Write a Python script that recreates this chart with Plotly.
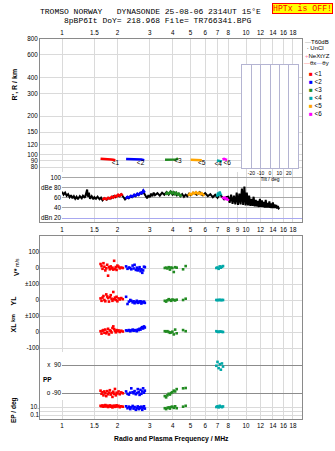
import plotly.graph_objects as go

W, H = 335, 451

# ---------------- data ----------------
FREQ_TICKS = [1, 1.5, 2, 3, 4, 5, 6, 7, 8, 10, 12, 14, 16, 18]
FREQ_TICKS_MID = [1, 1.5, 2, 3, 4, 5, 6, 7, 8, 9, 10, 12, 14, 16, 18]
RANGE_TICKS = [80, 90, 100, 120, 150, 200, 300, 400, 600, 800]
DBE_TICKS = [100, 80, 60, 40]
DBE_TEXT = ["100", "dBe 80", "60", "40"]
DBN_TICKS = [20]
DBN_TEXT = ["dBn 20"]
TILT_TICKS = [-20, -10, 0, 10, 20]
V_TICKS, V_TEXT = [100, 0, -100], ["100", "0", "±100"]
YL_TICKS, YL_TEXT = [0, -100], ["0", "±100"]
XL_TICKS, XL_TEXT = [0, -100], ["0", "-100"]
PP_TICKS, PP_TEXT = [90, -90], ["x\u00a0\u00a090", "o -90"]
EP_TICKS, EP_TEXT = [10, 1, 0.1], ["10.", "", "0.1"]

LABELS = ["<1", "<2", "<3", "<4", "<5", "<6"]
LABEL_POS = ["bottom center", "bottom left", "bottom center", "bottom left", "bottom center", "bottom center"]
COLORS = ["#ff0000", "#0000ff", "#228b22", "#00a8a8", "#ffa500", "#ff00ff"]

# virtual height traces (MHz, km)
t1_f = [1.62, 1.66, 1.70, 1.75, 1.80, 1.85, 1.90, 1.95]
t1_h = [93, 92.5, 92, 91.5, 92, 91.5, 91, 90.5]
t2_f = [2.23, 2.30, 2.40, 2.50, 2.60, 2.70, 2.80]
t2_h = [92.5, 92.5, 92, 92, 91.5, 91.5, 90.5]
t3_f = [3.63, 3.75, 3.90, 4.05, 4.15, 4.22, 4.27]
t3_h = [91, 91, 91, 91, 91.5, 92.5, 94]
t4_f = [6.95, 7.10, 7.25, 7.40]
t4_h = [90, 89.5, 88.5, 88.5]
t5_f = [5.00, 5.15, 5.30, 5.45, 5.60, 5.75]
t5_h = [91, 91, 91, 91, 91, 90.5]
t6_f = [7.45, 7.60, 7.75, 7.90]
t6_h = [91.5, 92.5, 91.5, 91]

# echo amplitude (dBe)
amp_f = [1.00, 1.02, 1.04, 1.06, 1.08, 1.10, 1.12, 1.14, 1.16, 1.18, 1.20, 1.22, 1.25, 1.28, 1.30,
         1.33, 1.35, 1.37, 1.38, 1.40, 1.42, 1.45, 1.48, 1.50, 1.53, 1.56, 1.60, 1.63, 1.66, 1.70,
         1.75, 1.80, 1.85, 1.90, 1.95, 2.00, 2.05, 2.10, 2.15, 2.20, 2.25, 2.30, 2.35, 2.40, 2.45,
         2.50, 2.55, 2.60, 2.65, 2.70, 2.75, 2.80, 2.85, 2.90, 2.95, 3.00, 3.05, 3.10, 3.15, 3.20,
         3.30, 3.40, 3.50, 3.60, 3.70, 3.80, 3.90, 4.00, 4.10, 4.20, 4.30, 4.40, 4.50, 4.60, 4.70,
         4.80, 4.90, 5.00, 5.20, 5.40, 5.60, 5.80, 6.00, 6.20, 6.40, 6.60, 6.80, 7.00, 7.20, 7.40,
         7.60, 7.80, 8.00, 8.15, 8.30, 8.45, 8.60, 8.75, 8.90, 9.05, 9.20, 9.35, 9.50, 9.65, 9.80,
         9.95, 10.10, 10.25, 10.40, 10.55, 10.70, 10.85, 11.00, 11.15, 11.30, 11.45, 11.60, 11.75,
         11.90, 12.05, 12.20, 12.35, 12.50, 12.65, 12.80, 12.95, 13.10, 13.25, 13.40, 13.55, 13.70,
         13.85, 14.00, 14.15, 14.30, 14.45, 14.60, 14.75, 14.90, 15.05, 15.20]
amp_db = [72, 66, 70, 64, 67, 61, 65, 59, 63, 58, 62, 57, 63, 59, 64,
          60, 68, 76, 62, 70, 58, 63, 57, 61, 58, 62, 57, 60, 55, 59,
          56, 60, 59, 63, 61, 65, 63, 67, 62, 57, 61, 59, 63, 61, 65,
          63, 67, 65, 69, 68, 73, 68, 63, 59, 65, 61, 68, 63, 70, 65,
          69, 64, 70, 66, 71, 66, 72, 66, 70, 65, 68, 63, 67, 62, 66,
          63, 68, 65, 70, 66, 71, 65, 69, 63, 67, 61, 66, 60, 67, 61,
          57, 61, 62, 50, 66, 48, 64, 47, 70, 46, 68, 47, 78, 46, 82,
          45, 70, 45, 64, 44, 58, 44, 62, 43, 56, 43, 54, 42,
          58, 42, 55, 42, 52, 41, 56, 41, 50, 41, 53, 40, 49,
          40, 51, 40, 47, 40, 46, 39, 44, 39, 40]
a1_f = [1.66, 1.70, 1.74, 1.78, 1.82, 1.86, 1.90, 1.94, 1.98, 2.02, 2.06, 2.10, 2.14]
a1_db = [56, 59, 57, 60, 58, 62, 60, 64, 62, 66, 64, 67, 65]
a2_f = [2.22, 2.27, 2.32, 2.37, 2.42, 2.47, 2.52, 2.57, 2.62, 2.67, 2.72, 2.77, 2.82]
a2_db = [58, 62, 60, 64, 62, 66, 64, 68, 66, 70, 69, 74, 70]
a3_f = [3.65, 3.72, 3.80, 3.88, 3.95, 4.02, 4.10, 4.18, 4.25, 4.32, 4.40, 4.48]
a3_db = [66, 70, 68, 72, 68, 71, 67, 70, 66, 68, 64, 66]
a4_f = [6.95, 7.05, 7.12, 7.20, 7.28, 7.36]
a4_db = [62, 70, 64, 72, 66, 68]
a5_f = [4.85, 4.95, 5.05, 5.15, 5.25, 5.35, 5.45, 5.55, 5.65, 5.75, 5.85, 5.95]
a5_db = [64, 68, 66, 70, 68, 71, 68, 70, 67, 69, 66, 64]
a6_f = [7.45, 7.55, 7.65, 7.75, 7.85, 7.95, 8.05]
a6_db = [62, 58, 62, 56, 60, 55, 58]

# echo parameters: V* (m/s), YL, XL (km), PP (deg), EP (deg)
e1_f = [1.62, 1.64, 1.66, 1.68, 1.70, 1.72, 1.74, 1.76, 1.78, 1.80, 1.82, 1.84,
        1.86, 1.88, 1.90, 1.92, 1.94, 1.96, 1.98, 2.00, 2.03, 2.06, 2.10, 2.14]
e1_v = [25, 12, -5, 30, 8, -15, -2, 20, -48, 5, -8, 10, -3, 2, -10, 45, -5, 6, -12, 15, 8, -2, 3, 0]
e1_yl = [10, -5, 15, 25, 0, -8, 35, 22, 12, -10, 18, 30, 8, -5, 50, 5, 15, 0, 20, -8, 10, 3, 12, 5]
e1_xl = [5, -10, 8, 12, -5, 15, -8, 0, 20, -15, 10, 5, -3, 25, 35, 18, 8, -2, 12, 5, 10, 0, 8, 3]
e1_pp = [-75, -95, -85, -105, -80, -92, -110, -78, -98, -88, -72, -100,
         -90, -115, -82, -95, -64, -105, -88, -93, -80, -98, -86, -92]
e1_ep = [20, 15, 25, 12, 18, 30, 14, 22, 10, 16, 25, 12, 19, 8, 15, 22, 11, 17, 26, 13, 20, 9, 15, 12]

e2_f = [2.23, 2.27, 2.31, 2.35, 2.38, 2.42, 2.45, 2.48, 2.52, 2.55,
        2.58, 2.61, 2.64, 2.67, 2.70, 2.73, 2.76, 2.79, 2.82]
e2_v = [10, -5, 3, 0, -8, 15, -3, 20, -12, 2, -15, -5, 5, -20, -8, -30, -15, 8, 5]
e2_yl = [20, -25, -10, 0, -5, -15, -8, -20, -12, -5, -18, -10, -15, -8, -22, -12, -15, -10, -18]
e2_xl = [10, 8, 12, 5, 10, 15, 8, 12, 10, 5, 15, 12, 20, 15, 25, 30, 22, 35, 28]
e2_pp = [-80, -95, -100, -88, -60, -85, -92, -78, -98, -90, -65, -85, -102, -70, -95, -80, -60, -88, -75]
e2_ep = [15, 5, 12, 3, 8, 18, 4, 10, 2, 6, 14, 3, 9, 5, 12, 2, 7, 15, 4]

e3_f = [3.62, 3.68, 3.74, 3.80, 3.86, 3.92, 3.98, 4.05, 4.12, 4.20, 4.55, 4.70]
e3_v = [0, 2, -3, 5, -10, 3, 0, -25, 5, 2, -8, 12]
e3_yl = [-5, -10, -2, 5, 0, -5, 3, 0, -3, 2, 0, 8]
e3_xl = [5, 3, 5, 0, -5, -3, 2, -15, 15, -8, 12, 5]
e3_pp = [-110, -118, -105, -95, -100, -90, -85, -75, -80, -65, -60, -58]
e3_ep = [5, 3, 6, 8, 4, 10, 12, 6, 15, 5, 12, 20]

e4_f = [6.90, 7.00, 7.10, 7.20, 7.30, 7.40, 7.50]
e4_v = [0, 3, -5, 10, 2, 8, 12]
e4_yl = [0, -1, 0, 1, -1, 0, 0]
e4_xl = [5, 2, 0, 3, 2, 1, 0]
e4_pp = [85, 110, 70, 95, 60, 100, 80]
e4_ep = [10, 15, 8, 20, 12, 9, 14]

# ---------------- layout helpers ----------------
def xd(a, b):
    return [a / W, b / W]


def yd(top, bottom):
    return [1 - bottom / H, 1 - top / H]


LOGL, LOGR = -0.1196, 1.3043
FRAME = "#8a8a8a"
GRID = "#dadada"
DGRID = "#a8a8a8"
PGRID = "#8c8c8c"
LAV = "#a8a8f0"
TILT = "#b4b4d2"
SANS = "Liberation Sans"
MONO = "Liberation Mono"
TF = dict(family=SANS, size=6.3, color="black")

fig = go.Figure()

# R' panel
vh = [(t1_f, t1_h), (t2_f, t2_h), (t3_f, t3_h), (t4_f, t4_h), (t5_f, t5_h), (t6_f, t6_h)]
for (f, h), c in zip(vh, COLORS):
    fig.add_trace(go.Scatter(x=f, y=h, mode="lines", line=dict(color=c, width=2.5),
                             xaxis="x", yaxis="y", hoverinfo="skip"))
fig.add_trace(go.Scatter(x=[f[-1] for f, h in vh], y=[h[-1] for f, h in vh], mode="text",
                         text=LABELS, textposition=LABEL_POS,
                         textfont=dict(family=SANS, size=6.5, color="black"),
                         xaxis="x", yaxis="y", hoverinfo="skip"))

# frames (empty)
fig.add_trace(go.Scatter(x=[], y=[], xaxis="x2", yaxis="y2"))

# dBe panel
fig.add_trace(go.Scatter(x=amp_f, y=amp_db, mode="lines", line=dict(color="black", width=2),
                         xaxis="x3", yaxis="y3", hoverinfo="skip"))
amps = [(a1_f, a1_db), (a2_f, a2_db), (a3_f, a3_db), (a4_f, a4_db), (a5_f, a5_db), (a6_f, a6_db)]
for (f, d), c in zip(amps, COLORS):
    fig.add_trace(go.Scatter(x=f, y=d, mode="lines", line=dict(color=c, width=2.4),
                             xaxis="x3", yaxis="y3", hoverinfo="skip"))
fig.add_trace(go.Scatter(x=[], y=[], xaxis="x3", yaxis="y11"))

# bottom panel
fig.add_trace(go.Scatter(x=[], y=[], xaxis="x4", yaxis="y4"))
echoes = [
    (e1_f, e1_v, e1_yl, e1_xl, e1_pp, e1_ep, COLORS[0]),
    (e2_f, e2_v, e2_yl, e2_xl, e2_pp, e2_ep, COLORS[1]),
    (e3_f, e3_v, e3_yl, e3_xl, e3_pp, e3_ep, COLORS[2]),
    (e4_f, e4_v, e4_yl, e4_xl, e4_pp, e4_ep, COLORS[3]),
]
for f, v, yl, xl, pp, ep, c in echoes:
    mk = dict(symbol="square", size=2.6, color=c, line=dict(width=0))
    for vals, xa, ya in [(v, "x4", "y5"), (yl, "x4", "y6"), (xl, "x4", "y7"),
                         (pp, "x5", "y8"), (ep, "x4", "y9")]:
        fig.add_trace(go.Scatter(x=f, y=vals, mode="markers", marker=mk,
                                 xaxis=xa, yaxis=ya, hoverinfo="skip"))

# tilt inset
fig.add_trace(go.Scatter(x=[], y=[], xaxis="x6", yaxis="y10"))

fmt = lambda v: f"{v:g}"
freq_ax = dict(type="log", showgrid=True, gridcolor=GRID, gridwidth=1, zeroline=False,
               ticks="", tickfont=TF, tickangle=0)
noax = dict(showgrid=False, zeroline=False, showticklabels=False, ticks="")

layout = dict(
    width=W, height=H, margin=dict(l=0, r=0, t=0, b=0), autosize=False,
    template="none", paper_bgcolor="white", plot_bgcolor="white",
    showlegend=False, hovermode=False, font=dict(family=SANS, size=6.3, color="black"),
    xaxis=dict(**freq_ax, domain=xd(40, 302), anchor="y", side="top", range=[LOGL, LOGR],
               tickvals=FREQ_TICKS, ticktext=[fmt(v) for v in FREQ_TICKS],
               showline=True, linecolor=FRAME, linewidth=1),
    yaxis=dict(type="log", domain=yd(39, 172), anchor="x", range=[1.864, 2.903],
               tickvals=RANGE_TICKS, ticktext=[fmt(v) for v in RANGE_TICKS],
               showgrid=True, gridcolor=GRID, zeroline=False, ticks="", tickfont=TF,
               showline=True, mirror=True, linecolor=FRAME, linewidth=1),
    xaxis2=dict(**noax, domain=xd(40, 302), anchor="y2", range=[0, 1],
                showline=True, linecolor=FRAME, linewidth=1),
    yaxis2=dict(**noax, domain=yd(172, 222), anchor="x2", range=[0, 1],
                showline=True, mirror=True, linecolor=FRAME, linewidth=1),
    xaxis3=dict(**freq_ax, domain=xd(62, 302), anchor="y3", range=[0, LOGR],
                tickvals=FREQ_TICKS_MID, ticktext=[fmt(v) for v in FREQ_TICKS_MID],
                showline=False, ticklabelstandoff=3),
    yaxis3=dict(domain=yd(172, 222), anchor="x3", range=[12.6, 110.4],
                tickvals=DBE_TICKS, ticktext=DBE_TEXT, showgrid=True, gridcolor=DGRID,
                zeroline=False, ticks="", tickfont=TF, showline=False),
    yaxis11=dict(overlaying="y3", anchor="x3", side="left", range=[12.6, 110.4],
                 tickvals=DBN_TICKS, ticktext=DBN_TEXT, showgrid=True, gridcolor=LAV,
                 zeroline=False, ticks="", tickfont=TF, showline=False),
    xaxis4=dict(**freq_ax, domain=xd(40, 302), anchor="y4", range=[LOGL, LOGR],
                tickvals=FREQ_TICKS, ticktext=[fmt(v) for v in FREQ_TICKS],
                showline=True, mirror=True, linecolor=FRAME, linewidth=1),
    yaxis4=dict(**noax, domain=yd(236, 419), anchor="x4", range=[0, 1],
                showline=True, mirror=True, linecolor=FRAME, linewidth=1),
    yaxis5=dict(domain=yd(250, 286), anchor="x4", range=[-112.5, 112.5],
                tickvals=V_TICKS, ticktext=V_TEXT, showgrid=True, gridcolor=GRID,
                zeroline=False, ticks="", tickfont=TF),
    yaxis6=dict(domain=yd(286, 318), anchor="x4", range=[-112.5, 87.5],
                tickvals=YL_TICKS, ticktext=YL_TEXT, showgrid=True, gridcolor=GRID,
                zeroline=False, ticks="", tickfont=TF),
    yaxis7=dict(domain=yd(318, 352), anchor="x4", range=[-125, 87.5],
                tickvals=XL_TICKS, ticktext=XL_TEXT, showgrid=True, gridcolor=GRID,
                zeroline=False, ticks="", tickfont=TF),
    xaxis5=dict(**freq_ax, domain=xd(62, 302), anchor="y8", range=[0, LOGR],
                tickvals=FREQ_TICKS, showticklabels=False, showline=False),
    yaxis8=dict(domain=yd(352, 400), anchor="x5", range=[-135, 173.6],
                tickvals=PP_TICKS, ticktext=PP_TEXT, showgrid=True, gridcolor=PGRID,
                zeroline=False, ticks="", tickfont=TF),
    yaxis9=dict(type="log", domain=yd(400, 419), anchor="x4", range=[-2, 2.75],
                tickvals=EP_TICKS, ticktext=EP_TEXT, showgrid=True, gridcolor=GRID,
                zeroline=False, ticks="", tickfont=TF),
    xaxis6=dict(domain=xd(242, 298), anchor="y10", range=[-30, 30],
                tickvals=TILT_TICKS, ticktext=[fmt(v) for v in TILT_TICKS], tickangle=0,
                tickfont=dict(family=SANS, size=5, color="black"),
                showgrid=True, gridcolor=TILT, zeroline=False, ticks="",
                showline=True, mirror=True, linecolor=TILT, linewidth=1,
                title=dict(text="Tilt / deg", font=dict(family=SANS, size=5, color="black"),
                           standoff=1)),
    yaxis10=dict(**noax, domain=yd(65, 168), anchor="x6", range=[0, 1],
                 showline=True, mirror=True, linecolor=TILT, linewidth=1),
)
fig.update_layout(**layout)


def ann(x, y, text, size=6.3, family=SANS, color="black", xanchor="center", angle=0, **kw):
    fig.add_annotation(x=x / W, y=1 - y / H, xref="paper", yref="paper", text=text,
                       showarrow=False, xanchor=xanchor, yanchor="middle", textangle=angle,
                       font=dict(family=family, size=size, color=color), **kw)


# titles
ann(150, 11.5, "TROMSO NORWAY\u00a0\u00a0\u00a0DYNASONDE 25-08-06 2314UT 15°E", size=8, family=MONO)
ann(157.5, 20.5, "8pBP6It DoY= 218.968 File= TR766341.BPG", size=8, family=MONO)
ann(302.5, 8.5, "HPTx is OFF!", size=8.2, family=MONO, color="#ff0000",
    bgcolor="#ffff00", bordercolor="#ff0000", borderwidth=1, borderpad=0)

# legend
LX = 303
ann(LX, 41.5, "<span style='color:#a0a0a0'>—</span>T60dB", size=6, xanchor="left")
ann(LX, 48, "\u00a0·\u00a0UnCl", size=6, xanchor="left")
ann(LX, 55.7, "<span style='color:#ff80b0'>+</span>NeXtYZ", size=6, xanchor="left")
ann(LX - 1, 63, "<span style='color:#ff8080'>—</span>θx<span style='color:#8080ff'>—</span>θy",
    size=6, xanchor="left")
for i, (lab, c) in enumerate(zip(LABELS, COLORS)):
    ann(LX + 4, 73.3 + 8.1 * i, f"<span style='color:{c}'>■</span>\u00a0{lab}", size=6.3, xanchor="left")

# axis titles
ann(14.5, 85, "<b>R', R / km</b>", size=7, angle=-90)
ann(16, 267, "<b>V*</b> <span style='font-size:5px'>m/s</span>", size=7, angle=-90)
ann(12.5, 300, "<b>YL</b>", size=7, angle=-90)
ann(12.5, 317.5, "<b>km</b>", size=5.5, angle=-90)
ann(12.5, 327, "<b>XL</b>", size=7, angle=-90)
ann(47, 379, "<b>PP</b>", size=6.5)
ann(14, 410, "<b>EP / deg</b>", size=6.5, angle=-90)
ann(171, 439, "<b>Radio and Plasma Frequency / MHz</b>", size=6.8)

fig.write_html("out.html")
